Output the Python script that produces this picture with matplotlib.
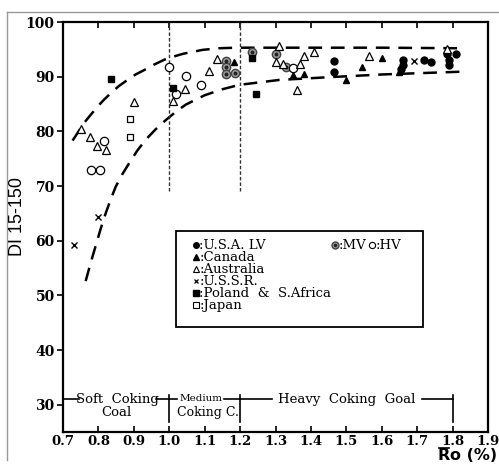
import numpy as np
import matplotlib.pyplot as plt
from matplotlib.lines import Line2D

# ---- data ----
usa_lv_x = [1.465, 1.465, 1.66, 1.66, 1.655, 1.72, 1.74, 1.785, 1.81, 1.79, 1.79]
usa_lv_y = [92.9, 90.9, 93.1, 92.2, 91.4, 93.1, 92.6, 94.1, 94.1, 93.0, 92.2]

usa_mv_x = [1.16, 1.16, 1.16, 1.185, 1.235, 1.30, 1.33]
usa_mv_y = [92.9, 91.8, 90.5, 90.7, 94.5, 94.1, 91.8]

usa_hv_x = [1.0, 1.047, 1.02, 1.09, 0.815, 0.78, 0.805, 1.35]
usa_hv_y = [91.7, 90.2, 86.9, 88.5, 78.3, 72.9, 72.9, 91.6]

canada_x = [1.184, 1.35, 1.38, 1.50, 1.545, 1.60, 1.65]
canada_y = [92.6, 90.3, 90.5, 89.4, 91.8, 93.4, 90.9]

australia_x = [0.75, 0.775, 0.795, 0.82, 0.90, 1.01, 1.044, 1.113, 1.134,
               1.31, 1.30, 1.32, 1.38, 1.41, 1.36, 1.565, 1.37, 1.785]
australia_y = [80.5, 79.0, 77.3, 76.5, 85.3, 85.6, 87.7, 91.1, 93.2,
               95.6, 92.7, 92.4, 93.7, 94.6, 87.5, 93.7, 92.3, 95.0]

ussr_x = [0.73, 0.80, 1.69]
ussr_y = [59.2, 64.3, 92.9]

poland_x = [0.835, 1.01, 1.235, 1.245]
poland_y = [89.5, 87.9, 93.5, 86.8]

japan_x = [0.89, 0.89]
japan_y = [82.3, 78.9]

# dashed band boundaries
upper_x = [0.727, 0.743, 0.759, 0.778, 0.797, 0.816, 0.835, 0.858, 0.882, 0.905,
           0.929, 0.957, 0.986, 1.013, 1.04, 1.094, 1.14, 1.19, 1.30, 1.45, 1.60, 1.82]
upper_y = [78.3, 79.9, 81.5, 83.0, 84.5, 85.8, 87.0, 88.3, 89.4, 90.4,
           91.2, 92.2, 93.1, 93.7, 94.2, 94.9, 95.2, 95.3, 95.3, 95.3, 95.3, 95.2]
lower_x = [0.764, 0.778, 0.792, 0.806, 0.821, 0.835, 0.849, 0.868, 0.887, 0.910,
           0.934, 0.962, 0.991, 1.019, 1.047, 1.10, 1.15, 1.198, 1.31, 1.45, 1.60, 1.82]
lower_y = [52.6, 55.9, 59.0, 62.1, 65.1, 67.6, 69.9, 72.2, 74.2, 76.5,
           78.5, 80.4, 82.1, 83.6, 84.9, 86.6, 87.7, 88.5, 89.4, 89.9, 90.4, 90.9]

x_ticks = [0.7, 0.8, 0.9, 1.0, 1.1, 1.2, 1.3, 1.4, 1.5, 1.6, 1.7, 1.8, 1.9]
y_ticks = [30, 40, 50, 60, 70, 80, 90, 100]

serif = 'DejaVu Serif'

fig = plt.figure(figsize=(4.99, 4.65), dpi=100)
ax = fig.add_axes([63 / 499, 1 - 432 / 465, (488 - 63) / 499, (432 - 22) / 465])

# light frame around the scanned figure
fig.add_artist(Line2D([7 / 499, 1.0], [1 - 12 / 465] * 2, color='#999999', lw=1))
fig.add_artist(Line2D([7 / 499] * 2, [1 - 12 / 465, 1 - 460 / 465], color='#999999', lw=1))

# band curves and rank boundaries
ax.plot(upper_x, upper_y, color='black', lw=1.8, dashes=(5.5, 3.5))
ax.plot(lower_x, lower_y, color='black', lw=1.8, dashes=(5.5, 3.5))
for xv in [1.0, 1.2]:
    ax.plot([xv, xv], [69, 100], color='#333333', lw=1.0, dashes=(2.5, 1.5))

ms = 5
ax.plot(usa_lv_x, usa_lv_y, 'o', color='black', ms=ms)
ax.plot(usa_mv_x, usa_mv_y, 'o', mfc='#9a9a9a', mec='#444444', ms=ms + 1)
ax.plot(usa_mv_x, usa_mv_y, 'o', color='#222222', ms=1.8)
ax.plot(usa_hv_x, usa_hv_y, 'o', mfc='white', mec='black', mew=0.9, ms=ms + 1)
ax.plot(canada_x, canada_y, '^', color='black', ms=ms)
ax.plot(australia_x, australia_y, '^', mfc='white', mec='black', mew=0.9, ms=ms + 1)
ax.plot(ussr_x, ussr_y, 'x', color='black', mew=1.0, ms=4)
ax.plot(poland_x, poland_y, 's', color='black', ms=ms)
ax.plot(japan_x, japan_y, 's', mfc='white', mec='black', mew=0.9, ms=ms)

ax.set_xlim(0.7, 1.9)
ax.set_ylim(25, 100)
ax.set_xticks(x_ticks)
ax.set_yticks(y_ticks)
ax.set_xticklabels([f'{v:.1f}' for v in x_ticks], fontfamily=serif, fontweight='bold', fontsize=9.5)
ax.set_yticklabels([str(v) for v in y_ticks], fontfamily=serif, fontweight='bold', fontsize=10)
ax.tick_params(axis='x', direction='in', top=True, length=4, width=1.2, pad=2)
ax.tick_params(axis='y', direction='out', length=4, width=1.2, pad=2)
for sp in ax.spines.values():
    sp.set_linewidth(1.6)

# legend box drawn by hand
ax.add_patch(plt.Rectangle((1.02, 44.2), 0.697, 17.5, fill=False, ec='black', lw=1.3))
leg_y = [59.2, 57.0, 54.8, 52.6, 50.4, 48.2]
lx = 1.075
ax.plot([lx], [leg_y[0]], 'o', color='black', ms=4)
ax.plot([lx], [leg_y[1]], '^', color='black', ms=4)
ax.plot([lx], [leg_y[2]], '^', mfc='white', mec='black', mew=0.8, ms=4.5)
ax.plot([lx], [leg_y[3]], 'x', color='black', mew=0.9, ms=3.5)
ax.plot([lx], [leg_y[4]], 's', color='black', ms=4)
ax.plot([lx], [leg_y[5]], 's', mfc='white', mec='black', mew=0.8, ms=4)
ax.plot([1.467], [leg_y[0]], 'o', mfc='#9a9a9a', mec='#444444', ms=5)
ax.plot([1.467], [leg_y[0]], 'o', color='#222222', ms=1.5)
ax.plot([1.572], [leg_y[0]], 'o', mfc='white', mec='black', mew=0.8, ms=4.5)
leg_labels = [':U.S.A. LV', ':Canada', ':Australia', ':U.S.S.R.', ':Poland  &  S.Africa', ':Japan']
for yy, lab in zip(leg_y, leg_labels):
    ax.text(1.085, yy, lab, fontfamily=serif, fontsize=9.5, va='center', ha='left')
ax.text(1.477, leg_y[0], ':MV', fontfamily=serif, fontsize=9.5, va='center', ha='left')
ax.text(1.582, leg_y[0], ':HV', fontfamily=serif, fontsize=9.5, va='center', ha='left')

# coal rank ranges along the bottom
ry = 31.0
for xv in [1.0, 1.2, 1.8]:
    ax.plot([xv, xv], [26.8, 31.8], color='black', lw=1.2)
for x0, x1 in [(0.70, 0.745), (0.963, 1.0), (1.0, 1.022), (1.155, 1.2),
               (1.2, 1.29), (1.715, 1.8)]:
    ax.plot([x0, x1], [ry, ry], color='black', lw=1.2)
ax.text(0.854, ry, 'Soft  Coking', fontfamily=serif, fontsize=9.5, ha='center', va='center')
ax.text(0.85, 28.6, 'Coal', fontfamily=serif, fontsize=9.5, ha='center', va='center')
ax.text(1.089, ry + 0.2, 'Medium', fontfamily=serif, fontsize=7.5, ha='center', va='center')
ax.text(1.108, 28.6, 'Coking C.', fontfamily=serif, fontsize=9, ha='center', va='center')
ax.text(1.502, ry, 'Heavy  Coking  Goal', fontfamily=serif, fontsize=9.5, ha='center', va='center')

fig.text(18 / 499, 1 - 216 / 465, 'DI 15-150', rotation=90, fontfamily='Liberation Sans',
         fontsize=13, ha='center', va='center')

# x label: "Ro (%)" with a bar drawn over the R
xl_rest = fig.text(497 / 499, 2 / 465, 'o (%)', fontfamily='DejaVu Sans',
                   fontweight='bold', fontsize=11.5, ha='right', va='bottom')
fig.canvas.draw()
bb = xl_rest.get_window_extent()
xl_r = fig.text(bb.x0 / 499, 2 / 465, 'R', fontfamily='DejaVu Sans',
                fontweight='bold', fontsize=11.5, ha='right', va='bottom')
fig.canvas.draw()
rb = xl_r.get_window_extent()
bar_y = (rb.y1 + 0.5) / 465
fig.add_artist(Line2D([(rb.x0 + 1) / 499, (rb.x1 - 0.5) / 499], [bar_y, bar_y],
                      color='black', lw=1.2))

fig.savefig('out.png', dpi=100)
